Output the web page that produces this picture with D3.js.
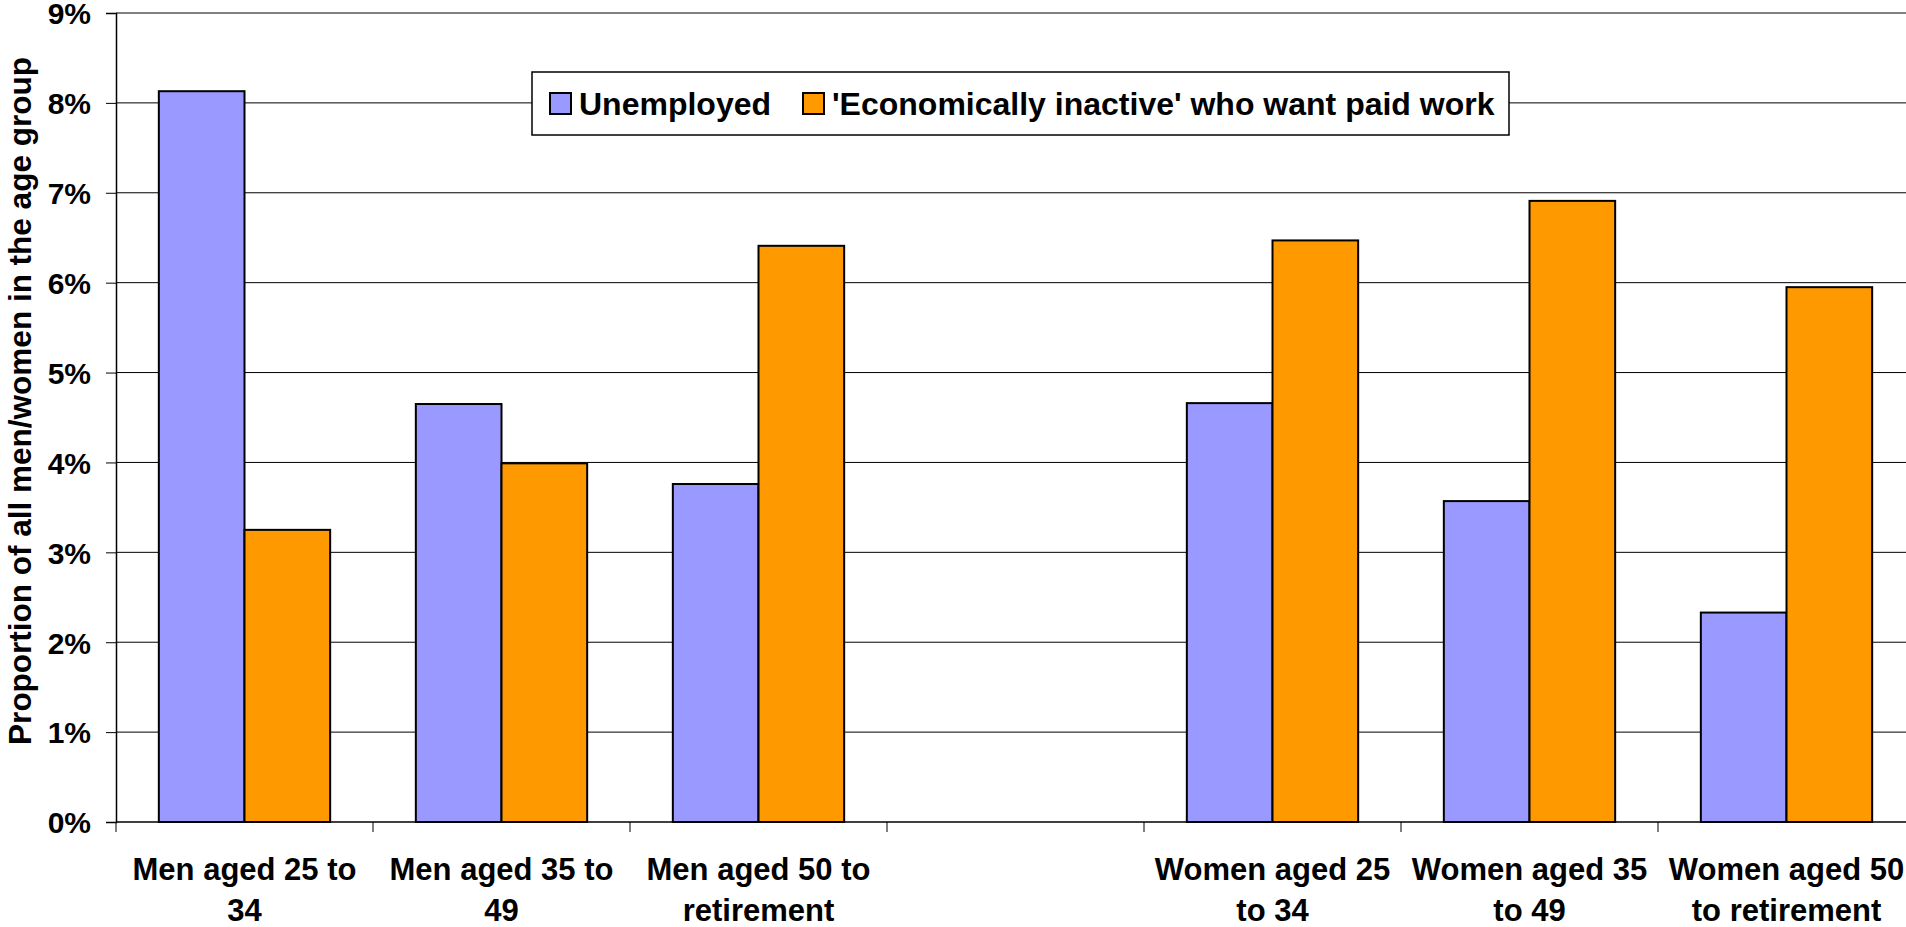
<!DOCTYPE html>
<html lang="en">
<head>
    <meta charset="UTF-8">
    <title>Unemployed and economically inactive by age group</title>
    <script src="https://cdn.jsdelivr.net/npm/d3@7"></script>
    <style>
        html, body {
            margin: 0;
            padding: 0;
            background: #fff;
        }
        svg text {
            font-family: "Liberation Sans", Arial, sans-serif;
            font-weight: bold;
            fill: #000;
        }
        .grid line {
            stroke: #000;
            stroke-width: 1;
        }
        .bar {
            stroke: #000;
            stroke-width: 2;
        }
    </style>
</head>
<body>
    <div id="chart"></div>

    <script>
        // Datos (en %)
        const categories = ["m25", "m35", "m50", "gap", "w25", "w35", "w50"];
        const labelLines = [
            ["Men aged 25 to", "34"],
            ["Men aged 35 to", "49"],
            ["Men aged 50 to", "retirement"],
            [],
            ["Women aged 25", "to 34"],
            ["Women aged 35", "to 49"],
            ["Women aged 50", "to retirement"]
        ];
        const seriesNames = ["Unemployed", "'Economically inactive' who want paid work"];
        const unemployed = [8.13, 4.65, 3.76, null, 4.66, 3.57, 2.33];
        const inactive = [3.25, 3.99, 6.41, null, 6.47, 6.91, 5.95];
        const yTicks = [0, 1, 2, 3, 4, 5, 6, 7, 8, 9];
        const colors = ["#9999ff", "#ff9900"];

        const width = 1906;
        const height = 927;
        const plot = { left: 116, top: 13, bottom: 822, catWidth: 257 };

        const svg = d3.select("#chart")
            .append("svg")
            .attr("width", width)
            .attr("height", height);

        const x = d3.scaleBand()
            .domain(categories)
            .range([plot.left, plot.left + plot.catWidth * categories.length])
            .paddingInner(0)
            .paddingOuter(0);

        // cada barra ocupa 1/3 de la categoría, hueco de 1/6 a cada lado
        const xInner = d3.scaleBand()
            .domain([0, 1])
            .range([0, x.bandwidth()])
            .paddingOuter(0.5)
            .paddingInner(0);

        const y = d3.scaleLinear().domain([0, 9]).range([plot.bottom, plot.top]);

        // líneas de cuadrícula
        svg.append("g")
            .attr("class", "grid")
            .selectAll("line")
            .data(yTicks.filter(d => d > 0))
            .enter().append("line")
            .attr("x1", plot.left)
            .attr("x2", width)
            .attr("y1", d => y(d))
            .attr("y2", d => y(d));

        // eje Y
        const yAxis = d3.axisLeft(y)
            .tickValues(yTicks)
            .tickSize(10)
            .tickPadding(15)
            .tickFormat(d => d + "%");
        const gy = svg.append("g")
            .attr("transform", `translate(${plot.left},0)`)
            .call(yAxis);
        gy.select(".domain").attr("stroke", "#000").attr("stroke-width", 1.5);
        gy.selectAll(".tick line").attr("stroke", "#000");
        gy.selectAll(".tick text")
            .style("font-size", "30px")
            .attr("dy", "0.36em");

        // barras
        const rows = categories.map((c, i) => ({ cat: c, vals: [unemployed[i], inactive[i]] }));
        const groups = svg.selectAll(".cat")
            .data(rows)
            .enter().append("g")
            .attr("class", "cat")
            .attr("transform", d => `translate(${x(d.cat)},0)`);

        groups.selectAll("rect")
            .data(d => d.vals.map((v, k) => ({ v, k })).filter(e => e.v != null))
            .enter().append("rect")
            .attr("class", "bar")
            .attr("x", d => xInner(d.k))
            .attr("width", xInner.bandwidth())
            .attr("y", d => y(d.v))
            .attr("height", d => y(0) - y(d.v))
            .attr("fill", d => colors[d.k]);

        // eje X
        const xAxis = svg.append("g");
        xAxis.append("line")
            .attr("x1", plot.left).attr("x2", width)
            .attr("y1", plot.bottom).attr("y2", plot.bottom)
            .attr("stroke", "#000").attr("stroke-width", 1.5);
        xAxis.selectAll(".xtick")
            .data(categories)
            .enter().append("line")
            .attr("class", "xtick")
            .attr("x1", d => x(d)).attr("x2", d => x(d))
            .attr("y1", plot.bottom).attr("y2", plot.bottom + 10)
            .attr("stroke", "#000");

        const xLabels = xAxis.selectAll(".xlabel")
            .data(categories)
            .enter().append("text")
            .attr("class", "xlabel")
            .attr("text-anchor", "middle")
            .style("font-size", "31px")
            .attr("transform", d => `translate(${x(d) + x.bandwidth() / 2},880)`);
        xLabels.selectAll("tspan")
            .data((d, i) => labelLines[i])
            .enter().append("tspan")
            .attr("x", 0)
            .attr("y", (d, i) => i * 41)
            .text(d => d);

        // título del eje Y
        svg.append("text")
            .attr("transform", "translate(31,401) rotate(-90)")
            .attr("text-anchor", "middle")
            .style("font-size", "31.5px")
            .text("Proportion of all men/women in the age group");

        // leyenda
        const legend = svg.append("g");
        legend.append("rect")
            .attr("x", 532).attr("y", 72)
            .attr("width", 977).attr("height", 63)
            .attr("fill", "#fff")
            .attr("stroke", "#000")
            .attr("stroke-width", 1.5);
        const legendX = [550, 803];
        seriesNames.forEach((name, i) => {
            legend.append("rect")
                .attr("x", legendX[i]).attr("y", 93)
                .attr("width", 21).attr("height", 21)
                .attr("fill", colors[i])
                .attr("stroke", "#000")
                .attr("stroke-width", 2);
            legend.append("text")
                .attr("x", legendX[i] + 29)
                .attr("y", 115)
                .style("font-size", "32px")
                .text(name);
        });
    </script>
</body>
</html>
